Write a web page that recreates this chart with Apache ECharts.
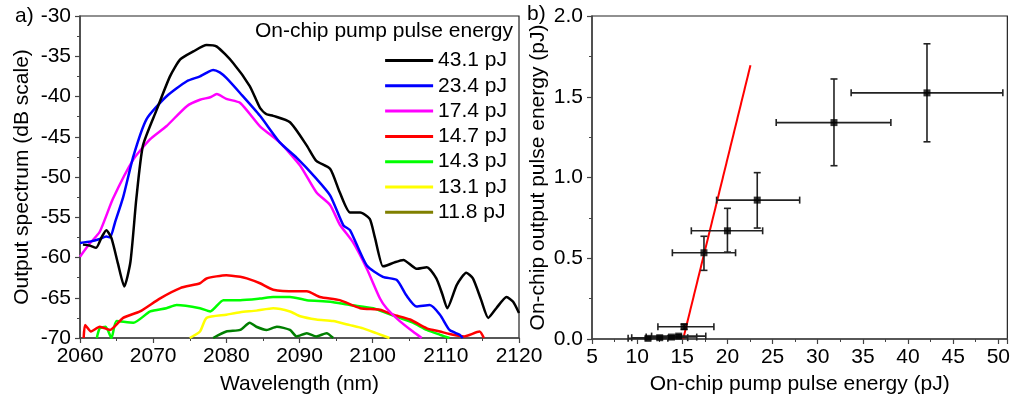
<!DOCTYPE html>
<html><head><meta charset="utf-8">
<script src="https://cdn.jsdelivr.net/npm/echarts@6/dist/echarts.min.js"></script>
<style>html,body{margin:0;padding:0;background:#fff}#c{width:1013px;height:400px}</style>
</head><body><div id="c"></div>
<script>
// ---- Panel a) spectra ----
const legendNames = ['43.1 pJ','23.4 pJ','17.4 pJ','14.7 pJ','14.3 pJ','13.1 pJ','11.8 pJ'];
const lineColors  = ['#000000','#0000ff','#ff00ff','#ff0000','#00ff00','#ffff00','#007f00'];
const legendColors= ['#000000','#0000ff','#ff00ff','#ff0000','#00ff00','#ffff00','#808000'];

const wl431 = [2060.4,2061.3,2062.2,2063.0,2063.6,2064.3,2065.2,2066.05,2066.9,2067.7,2068.6,2070.5,2072.3,2073.7,2075.5,2077.3,2078.7,2080.9,2083.2,2084.6,2085.5,2086.4,2088.7,2091.0,2092.3,2094.2,2095.5,2096.9,2098.3,2099.6,2100.3,2101.4,2101.9,2103.0,2104.2,2106.0,2107.4,2108.7,2109.5,2110.2,2111.5,2112.8,2113.7,2114.8,2115.8,2116.9,2118.3,2119.2,2120.0];
const db431 = [-58.4,-58.5,-58.8,-57.4,-56.6,-57.6,-60.8,-63.6,-60.5,-52.7,-46.1,-41.6,-37.5,-35.4,-34.4,-33.6,-33.8,-35.8,-38.7,-41.4,-42.2,-42.4,-43.2,-46.1,-48.0,-49.0,-51.9,-54.4,-54.4,-55.2,-57.5,-61.1,-61.0,-60.6,-60.3,-61.4,-61.2,-62.6,-64.5,-66.3,-63.4,-61.9,-62.6,-65.2,-67.5,-66.3,-64.9,-65.5,-66.9];

const wl234 = [2060.0,2061.5,2062.7,2063.6,2064.1,2064.8,2065.9,2067.3,2069.1,2071.8,2074.6,2076.4,2077.6,2078.2,2079.1,2080.0,2081.9,2084.6,2087.3,2089.6,2092.3,2094.2,2096.0,2096.9,2099.2,2101.4,2103.3,2104.6,2106.0,2107.8,2109.2,2110.5,2111.9,2112.3];
const db234 = [-58.2,-58.0,-57.7,-57.4,-57.5,-55.6,-52.5,-47.4,-42.8,-40.0,-38.1,-37.5,-36.9,-36.7,-37.0,-37.7,-39.6,-42.4,-45.7,-47.6,-50.2,-52.3,-56.0,-56.6,-61.0,-62.4,-62.8,-64.7,-66.1,-65.9,-67.1,-69.0,-69.6,-70.0];

const wl174 = [2060.0,2061.3,2062.7,2064.5,2067.3,2069.6,2071.8,2074.6,2076.4,2077.8,2078.7,2080.0,2081.9,2084.6,2087.3,2090.1,2092.3,2094.2,2095.5,2097.3,2099.2,2101.0,2101.9,2103.7,2105.5,2106.7];
const db174 = [-59.9,-58.3,-56.8,-52.7,-47.8,-45.3,-43.7,-41.2,-40.4,-40.1,-39.7,-40.3,-40.8,-43.7,-45.7,-48.6,-51.9,-53.5,-55.9,-58.1,-61.4,-65.1,-66.3,-67.9,-69.2,-70.0];

const wl147 = [2060.5,2060.7,2061.5,2062.7,2064.1,2065.9,2068.2,2070.9,2073.7,2076.4,2077.3,2080.0,2081.9,2082.8,2084.6,2086.4,2089.6,2091.0,2092.8,2095.5,2098.3,2101.0,2102.8,2105.1,2107.4,2109.2,2111.0,2112.5,2114.6,2115.2];
const db147 = [-70.0,-68.4,-69.2,-68.6,-69.0,-67.5,-66.7,-65.1,-63.8,-63.2,-62.6,-62.2,-62.4,-62.6,-63.2,-64.0,-64.2,-64.2,-64.9,-65.3,-66.3,-66.5,-67.1,-67.7,-68.8,-69.2,-69.6,-69.8,-69.2,-70.0];

const wl143 = [2062.3,2062.7,2063.5,2064.3,2065.0,2067.3,2069.6,2071.8,2073.2,2076.4,2077.8,2079.6,2081.9,2084.6,2086.4,2088.7,2091.0,2094.2,2096.9,2100.1,2101.9,2103.7,2105.5,2107.4,2109.2,2110.5];
const db143 = [-70.0,-68.8,-68.6,-70.0,-67.9,-68.1,-66.7,-66.3,-65.9,-66.3,-66.7,-65.3,-65.3,-65.1,-64.9,-64.9,-65.3,-65.5,-65.9,-66.3,-66.9,-67.5,-68.1,-69.0,-69.6,-70.0];

const wl131 = [2075.0,2076.4,2077.3,2080.0,2081.9,2084.1,2086.4,2088.7,2090.1,2092.3,2094.6,2096.9,2098.7,2100.5,2102.3];
const db131 = [-70.0,-69.2,-67.5,-67.1,-66.8,-66.6,-66.3,-66.7,-67.3,-67.7,-67.9,-68.4,-68.8,-69.4,-70.0];

const wl118 = [2078.2,2080.0,2081.9,2083.2,2084.1,2085.5,2086.9,2088.7,2089.6,2091.0,2092.3,2093.7,2094.6];
const db118 = [-70.0,-69.2,-69.0,-68.1,-68.6,-69.0,-68.6,-69.0,-69.8,-69.4,-69.8,-69.4,-70.0];

const spectraWl = [wl431,wl234,wl174,wl147,wl143,wl131,wl118];
const spectraDb = [db431,db234,db174,db147,db143,db131,db118];

// ---- Panel b) output vs pump energy ----
const pumpE   = [11.2, 12.5, 13.8, 14.6, 15.2, 17.4, 20.0, 23.3, 31.8, 42.1];
const outE    = [0.004,0.008,0.012,0.018,0.076,0.534,0.67,0.86,1.34,1.524];
const pumpLo  = [9.0, 9.4, 11.0, 11.6, 12.3, 13.9, 16.0, 18.8, 25.4, 33.7];
const pumpHi  = [13.4,15.6, 16.6, 17.6, 18.5, 20.9, 23.9, 28.0, 38.1, 50.5];
const outLo   = [-0.004,0.0,0.004,0.01,0.06,0.425,0.538,0.687,1.073,1.221];
const outHi   = [0.012,0.016,0.02,0.026,0.092,0.636,0.809,1.03,1.61,1.828];
const fitX = [15.1, 22.55];
const fitY = [0.0, 1.695];

const FONT = 'Arial, "Liberation Sans", sans-serif';
const FS = 21;
const chart = echarts.init(document.getElementById('c'), null, {renderer:'canvas'});

const axisCommon = {
  axisLine:{show:true,lineStyle:{color:'#444',width:1.5}},
  axisTick:{show:true,inside:false,length:5,lineStyle:{color:'#444',width:1.2}},
  minorTick:{show:true,splitNumber:2,length:3,lineStyle:{color:'#444',width:1}},
  splitLine:{show:false},
  axisLabel:{color:'#000',fontSize:FS,fontFamily:FONT,formatter:v=>String(v)},
  nameTextStyle:{color:'#000',fontSize:FS,fontFamily:FONT},
  nameLocation:'middle'
};

const series = [];
for (let i = legendNames.length-1; i >= 0; i--) {
  series.push({
    name: legendNames[i], type:'line', xAxisIndex:0, yAxisIndex:0,
    data: spectraWl[i].map((w,k)=>[w, spectraDb[i][k]]),
    showSymbol:false, symbol:'none', smooth:0.2, clip:true,
    color: lineColors[i],
    lineStyle:{color:lineColors[i], width:2.5},
    itemStyle:{color:lineColors[i]},
    animation:false
  });
}
series.push({
  type:'line', xAxisIndex:1, yAxisIndex:1,
  data: fitX.map((x,k)=>[x, fitY[k]]),
  showSymbol:false, symbol:'none', lineStyle:{color:'#ff0000',width:2}, animation:false, z:1
});
series.push({
  type:'custom', xAxisIndex:1, yAxisIndex:1, animation:false, z:3,
  data: pumpE.map((x,k)=>[x, outE[k], pumpLo[k], pumpHi[k], outLo[k], outHi[k]]),
  encode:{x:0,y:1},
  renderItem: function(params, api){
    const x=api.value(0), y=api.value(1);
    const l=api.coord([api.value(2), y]), r=api.coord([api.value(3), y]);
    const b=api.coord([x, api.value(4)]), t=api.coord([x, api.value(5)]);
    const cap=3.5, st={stroke:'#222', lineWidth:1.6};
    const ln=(x1,y1,x2,y2)=>({type:'line', shape:{x1,y1,x2,y2}, style:st});
    return {type:'group', children:[
      ln(l[0],l[1],r[0],r[1]), ln(l[0],l[1]-cap,l[0],l[1]+cap), ln(r[0],r[1]-cap,r[0],r[1]+cap),
      ln(b[0],b[1],t[0],t[1]), ln(b[0]-cap,b[1],b[0]+cap,b[1]), ln(t[0]-cap,t[1],t[0]+cap,t[1])
    ]};
  }
});
series.push({
  type:'scatter', xAxisIndex:1, yAxisIndex:1, animation:false, z:4,
  data: pumpE.map((x,k)=>[x, outE[k]]),
  symbol:'rect', symbolSize:7, itemStyle:{color:'#000'}
});

const option = {
  backgroundColor:'#fff',
  animation:false,
  textStyle:{fontFamily:FONT},
  grid:[
    {left:80, top:16, right:494, bottom:60, show:true, borderColor:'#222', borderWidth:1.2, containLabel:false},
    {left:592, top:16, right:5, bottom:59, show:true, borderColor:'#222', borderWidth:1.2, containLabel:false}
  ],
  xAxis:[
    Object.assign({}, axisCommon, {type:'value', gridIndex:0, min:2060, max:2120, interval:10,
      name:'Wavelength (nm)', nameGap:36, axisLabel:Object.assign({}, axisCommon.axisLabel, {margin:8})}),
    Object.assign({}, axisCommon, {type:'value', gridIndex:1, min:5, max:51, interval:5,
      name:'On-chip pump pulse energy (pJ)', nameGap:35,
      axisLabel:Object.assign({}, axisCommon.axisLabel, {margin:8, showMaxLabel:false})})
  ],
  yAxis:[
    Object.assign({}, axisCommon, {type:'value', gridIndex:0, min:-70, max:-30, interval:5,
      name:'Output spectrum (dB scale)', nameGap:47, nameRotate:90,
      axisLabel:Object.assign({}, axisCommon.axisLabel, {margin:9})}),
    Object.assign({}, axisCommon, {type:'value', gridIndex:1, min:0, max:2, interval:0.5,
      name:'On-chip output pulse energy (pJ)', nameGap:43, nameRotate:90,
      axisLabel:Object.assign({}, axisCommon.axisLabel, {margin:9, formatter:v=>v.toFixed(1)})})
  ],
  legend:{
    orient:'vertical', right:506, top:50, padding:0,
    itemWidth:48, itemHeight:3, itemGap:4.3, icon:'rect',
    textStyle:{color:'#000', fontSize:FS, fontFamily:FONT, lineHeight:21},
    selectedMode:false,
    data: legendNames.map((n,i)=>({name:n, icon:'rect', itemStyle:{color:legendColors[i]}}))
  },
  graphic:[
    {type:'text', left:15, top:6, style:{text:'a)', fontSize:FS, fontFamily:FONT, fill:'#000'}},
    {type:'text', left:527, top:4, style:{text:'b)', fontSize:FS, fontFamily:FONT, fill:'#000'}},
    {type:'text', right:500, top:21, style:{text:'On-chip pump pulse energy', fontSize:FS, fontFamily:FONT, fill:'#000'}}
  ],
  series: series
};
chart.setOption(option);
</script>
</body></html>
